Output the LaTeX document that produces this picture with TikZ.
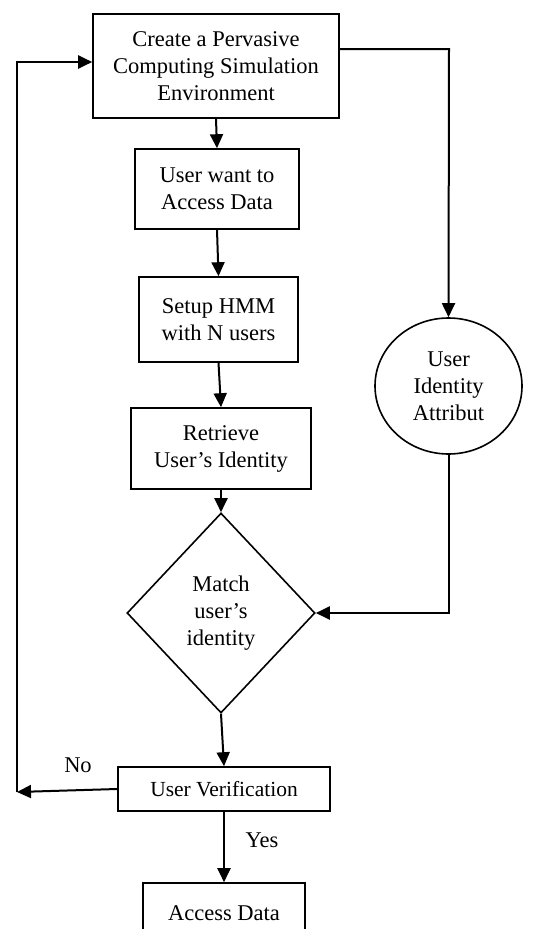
\documentclass[tikz,border=0pt]{standalone}
\usepackage{fontspec}
\setmainfont{Liberation Serif}
\usetikzlibrary{arrows.meta,shapes.geometric}
\begin{document}
\begin{tikzpicture}[x=1pt,y=-1pt,
  every node/.style={font=\fontsize{22.5}{27}\selectfont, align=center, inner sep=0pt},
  box/.style={draw, line width=1.6pt, rectangle},
  arr/.style={line width=2pt, -{Triangle[length=14pt,width=13pt]}},
  plain/.style={line width=1.8pt}]
\useasboundingbox (0,0) rectangle (555,929);
\node[box, minimum width=246, minimum height=104] (b1) at (216,66) {Create a Pervasive\\Computing Simulation\\Environment};
\node[box, minimum width=164, minimum height=80] (b2) at (217,189) {User want to\\Access Data};
\node[box, minimum width=159, minimum height=85] (b3) at (218.5,319.5) {Setup HMM\\with N users};
\node[box, minimum width=180, minimum height=81] (b4) at (221,448.5) {Retrieve\\User's Identity};
\node[draw, line width=1.6pt, diamond, minimum width=188, minimum height=200] (dia) at (221,613) {Match\\user's\\identity};
\node[draw, line width=1.6pt, ellipse, minimum width=147, minimum height=136] (ell) at (448.5,386) {User\\Identity\\Attribut};
\node[box, minimum width=212, minimum height=44, font=\fontsize{21.5}{26}\selectfont] (b5) at (224,789) {User Verification};
\node[box, minimum width=162, minimum height=60] (b6) at (224,913) {Access Data};
\node (no) at (78,765) {No};
\node (yes) at (262,840) {Yes};
\coordinate (rt) at (449,49);
\coordinate (lb) at (17,792);
\coordinate (lt) at (17,62);
\draw[arr] (b1.south) -- (b2.north);
\draw[arr] (b2.south) -- (b3.north);
\draw[arr] (b3.south) -- (b4.north);
\draw[arr] (b4.south) -- (dia.north);
\draw[arr] (dia.south) -- (b5.north);
\draw[arr] (b5.south) -- (b6.north);
\draw[arr] (b1.east |- rt) -- (rt) -- (ell.north);
\draw[arr] (ell.south) |- (dia.east);
\draw[arr] (b5.west) -- (lb);
\draw[arr] (lb) -- (lt) -- (b1.west |- lt);
\end{tikzpicture}
\end{document}
